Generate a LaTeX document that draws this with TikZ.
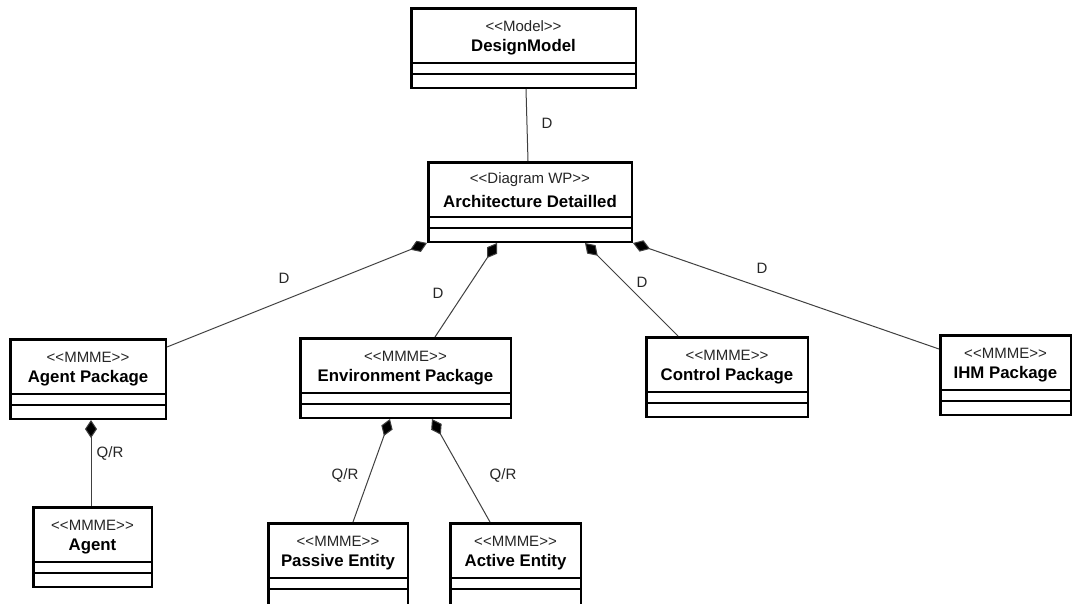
\documentclass[tikz,border=0pt]{standalone}
\usepackage{fontspec}
\setmainfont{Liberation Sans}
\usetikzlibrary{arrows.meta,calc}
\tikzset{
  classbox/.style={draw=black, line width=2.5pt, fill=white, inner sep=0pt, rectangle},
  stereo/.style={font=\fontsize{15}{17}\selectfont, inner sep=0pt, text=black!85},
  cname/.style={font=\fontsize{16.8}{19}\selectfont\bfseries, inner sep=0pt},
  sepline/.style={draw=black, line width=1.1pt},
  conn/.style={draw=black!75, line width=1pt},
  comp/.style={conn, -{Diamond[length=18pt,width=12pt,fill=black]}},
  elabel/.style={font=\fontsize{15}{18}\selectfont, inner sep=0pt, text=black!85}
}
\newcommand\umlbox[7][82]{%
  \pgfmathsetmacro\bw{#5-#3-2.5}%
  \pgfmathsetmacro\bh{#1-2.5}%
  \pgfmathsetmacro\bcx{(#3+#5)/2}%
  \node[classbox, minimum width=\bw pt, minimum height=\bh pt] (#2) at (\bcx, #4+#1/2) {};
  \draw[sepline] ([yshift=-56pt]#2.north west) -- ([yshift=-56pt]#2.north east);
  \draw[sepline] ([yshift=-67pt]#2.north west) -- ([yshift=-67pt]#2.north east);
  \node[stereo] (#2-s) at (\bcx, #4+19) {#6};
  \node[cname] (#2-n) at (\bcx, #4+40) {#7};
}
\begin{document}
\begin{tikzpicture}[x=1pt, y=-1pt]
  \clip (0,0) rectangle (1074,603);
  \fill[white] (0,0) rectangle (1074,603);

  \umlbox{dm}{410}{7}{637}{<{}<Model>{}>}{DesignModel}
  \umlbox{arch}{427}{161}{633}{<{}<Diagram WP>{}>}{Architecture Detailled}
  \umlbox{agentpkg}{9}{338}{167}{<{}<MMME>{}>}{Agent Package}
  \umlbox{env}{299}{337}{512}{<{}<MMME>{}>}{Environment Package}
  \umlbox{ctrl}{645}{336}{809}{<{}<MMME>{}>}{Control Package}
  \umlbox{ihm}{939}{334}{1072}{<{}<MMME>{}>}{IHM Package}
  \umlbox{agent}{32}{506}{153}{<{}<MMME>{}>}{Agent}
  \umlbox[92]{passive}{267}{522}{409}{<{}<MMME>{}>}{Passive Entity}
  \umlbox[92]{active}{449}{522}{582}{<{}<MMME>{}>}{Active Entity}

  % connectors
  \draw[conn] ([xshift=116pt]dm.south west) -- ([xshift=101pt]arch.north west);
  \draw[comp] ([yshift=-9pt]agentpkg.north east) -- (arch.south west);
  \draw[comp] ([xshift=136pt]env.north west) -- ([xshift=70pt]arch.south west);
  \draw[comp] ([xshift=33pt]ctrl.north west) -- ([xshift=158pt]arch.south west);
  \draw[comp] ([yshift=-15pt]ihm.north west) -- (arch.south east);
  \draw[comp] ([xshift=59pt]agent.north west) -- ([xshift=82pt]agentpkg.south west);
  \draw[comp] ([xshift=86pt]passive.north west) -- ([xshift=91pt]env.south west);
  \draw[comp] ([xshift=41pt]active.north west) -- ([xshift=133pt]env.south west);

  % labels
  \node[elabel] (l1) at (547,123) {D};
  \node[elabel] (l2) at (284,278) {D};
  \node[elabel] (l3) at (438,293) {D};
  \node[elabel] (l4) at (642,282) {D};
  \node[elabel] (l5) at (762,268) {D};
  \node[elabel] (l6) at (110,453) {Q/R};
  \node[elabel] (l7) at (345,475) {Q/R};
  \node[elabel] (l8) at (503,475) {Q/R};
\end{tikzpicture}
\end{document}
